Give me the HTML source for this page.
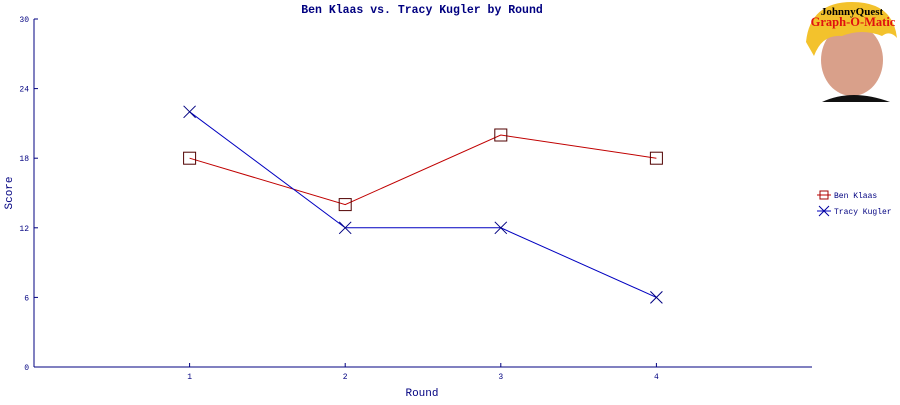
<!DOCTYPE html>
<html><head><meta charset="utf-8"><style>
body{margin:0;background:#fff;}
svg text{font-family:"Liberation Mono",monospace;}
svg text.serif{font-family:"Liberation Serif",serif;}
</style></head><body>
<svg width="900" height="400" viewBox="0 0 900 400" xmlns="http://www.w3.org/2000/svg">
<rect width="900" height="400" fill="#fff"/>
<text x="422" y="13" text-anchor="middle" font-size="11.5" font-weight="bold" fill="#000080">Ben Klaas vs. Tracy Kugler by Round</text>
<g>
<ellipse cx="852" cy="60" rx="31" ry="36" fill="#d9a08a"/>
<path d="M806 42 Q810 2 852 2 Q893 2 897 38 Q890 30 882 36 Q862 28 842 36 Q822 34 814 56 Z" fill="#f3c22c"/>
<path d="M822 102 Q852 88 890 102 Z" fill="#111"/>
<text class="serif" x="852" y="15" text-anchor="middle" font-size="11" font-weight="bold" fill="#000">JohnnyQuest</text>
<text class="serif" x="853" y="26" text-anchor="middle" font-size="12.5" font-weight="bold" fill="#e01010">Graph-O-Matic</text>
</g>
<g id="axes"></g>
<g id="series"></g>
<text transform="translate(12,193) rotate(-90)" text-anchor="middle" font-size="11" fill="#000080">Score</text>
<text x="422" y="396" text-anchor="middle" font-size="11" fill="#000080">Round</text>
<g>
<g>
<line x1="817" y1="195" x2="831" y2="195" stroke="#c00000"/>
<rect x="820" y="191" width="8" height="8" fill="none" stroke="#a00000"/>
<text x="834" y="198" font-size="8" fill="#000080">Ben Klaas</text>
</g>
<g>
<line x1="817" y1="211" x2="831" y2="211" stroke="#0000c0"/>
<path d="M819 206 L829 216 M829 206 L819 216" stroke="#0000a0"/>
<text x="834" y="214" font-size="8" fill="#000080">Tracy Kugler</text>
</g>
</g>
</svg>
<script>
const rounds=[1,2,3,4];
const benScores=[18,14,20,18];
const tracyScores=[22,12,12,6];
const yTicks=[0,6,12,18,24,30];
const xTicks=[1,2,3,4];
const X0=34,X1=812,Y0=367,Y1=19;
const xs=v=>X0+(X1-X0)*v/5;
const ys=v=>Y0-(Y0-Y1)*v/30;
const NS="http://www.w3.org/2000/svg";
function mk(tag,attrs,parent){const e=document.createElementNS(NS,tag);for(const k in attrs)e.setAttribute(k,attrs[k]);parent.appendChild(e);return e;}
const ax=document.getElementById('axes');
let l=mk('line',{x1:X0,y1:Y1,x2:X0,y2:Y0,stroke:'#000080'},ax);


l=mk('line',{x1:X0,y1:Y0,x2:X1,y2:Y0,stroke:'#000080'},ax);


yTicks.forEach(t=>{
 const y=ys(t);
 mk('line',{x1:X0,y1:y,x2:X0+4,y2:y,stroke:'#000080'},ax);
 const tx=mk('text',{x:X0-5,y:y+3,'text-anchor':'end','font-size':'8',fill:'#000080'},ax);
 tx.textContent=t;
 
 
});
xTicks.forEach(t=>{
 const x=xs(t);
 mk('line',{x1:x,y1:Y0,x2:x,y2:Y0-4,stroke:'#000080'},ax);
 const tx=mk('text',{x:x,y:Y0+12,'text-anchor':'middle','font-size':'8',fill:'#000080'},ax);
 tx.textContent=t;
 
 
});
const sg=document.getElementById('series');
function series(vals,color,mcolor,kind,name){
 const pts=rounds.map((r,i)=>xs(r)+','+ys(vals[i])).join(' ');
 const p=mk('polyline',{points:pts,fill:'none',stroke:color,'stroke-width':'1'},sg);
 
 
 rounds.forEach((r,i)=>{
  const x=xs(r),y=ys(vals[i]);
  let m;
  if(kind==='sq'){m=mk('rect',{x:x-6,y:y-6,width:12,height:12,fill:'none',stroke:mcolor},sg);}
  else{m=mk('path',{d:`M${x-6} ${y-6} L${x+6} ${y+6} M${x+6} ${y-6} L${x-6} ${y+6}`,stroke:mcolor},sg);}
  
  
 });
}
series(benScores,'#c00000','#500000','sq','ben-klaas');
series(tracyScores,'#0000c0','#000080','x','tracy-kugler');
</script>
</body></html>
